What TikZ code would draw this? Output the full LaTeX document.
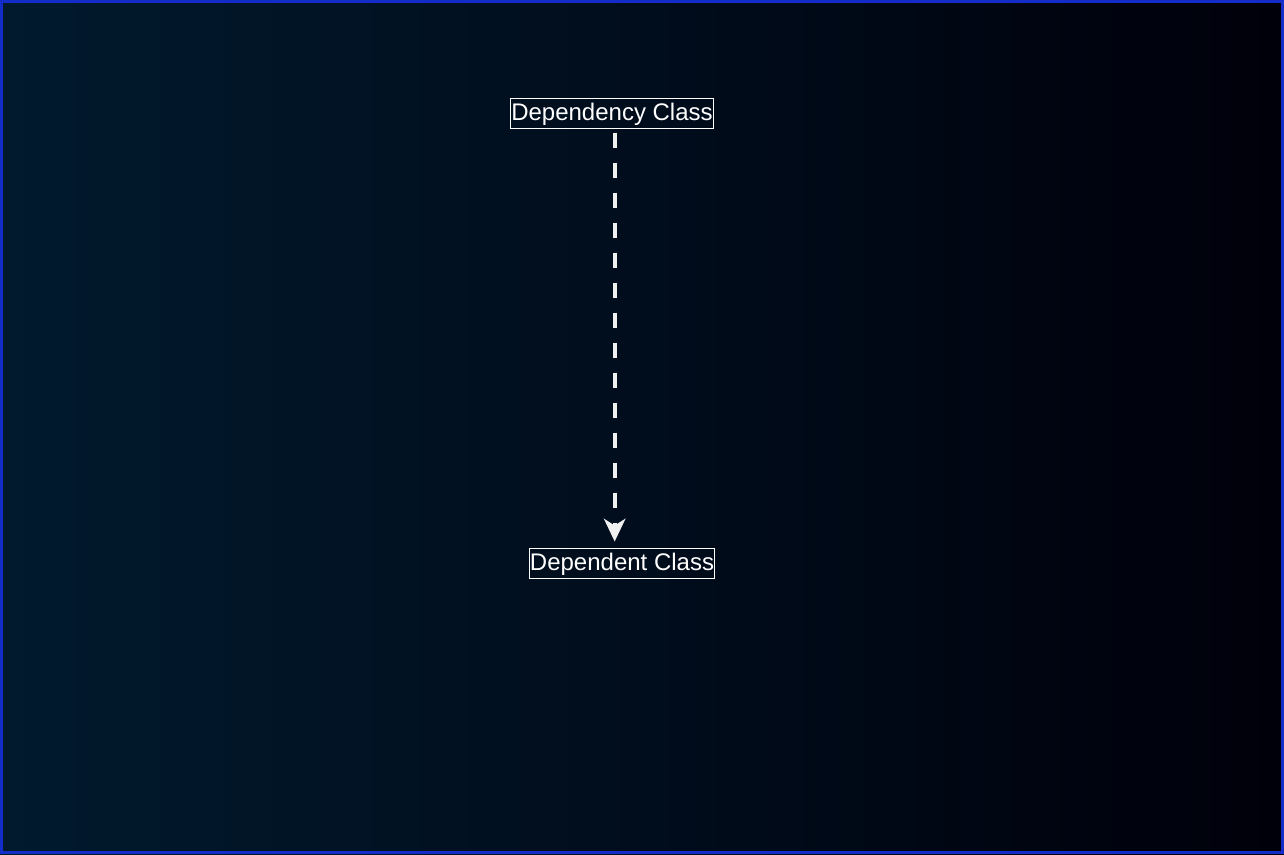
\documentclass[tikz,border=0pt]{standalone}
\usepackage{fontspec}
\setmainfont{Liberation Sans}
\usetikzlibrary{arrows.meta}
\definecolor{bgleft}{RGB}{1,26,46}
\definecolor{bgright}{RGB}{0,0,10}
\definecolor{frameblue}{RGB}{20,44,200}
\definecolor{arrowgray}{RGB}{240,240,240}
\begin{document}
\begin{tikzpicture}[x=0.75pt,y=0.75pt,yscale=-1,xscale=1,
        classbox/.style={draw=white,line width=0.75pt,text=white,font=\fontsize{18}{21.6}\selectfont,inner xsep=0.5pt,inner ysep=0pt,text height=13.25pt,text depth=2pt,minimum height=22.5pt},
        depline/.style={draw=arrowgray,line width=3pt,dash pattern=on 11.25pt off 11.25pt,-{Stealth[length=17pt,width=16pt,inset=5pt]}}]
        \useasboundingbox (0,0) rectangle (1284,854);

        %Background
        \shade[left color=bgleft,right color=bgright] (0,0) rectangle (1284,854);
        %Frame
        \draw[frameblue,line width=2.25pt] (1.5,1.5) rectangle (1282.5,852.5);

        % Text Node
        \node[classbox] (dependency) at (612,113) {Dependency Class};
        % Text Node
        \node[classbox] (dependent) at (622,563) {Dependent Class};

        % Dependency arrow
        \draw[depline] ([xshift=2pt,yshift=3pt]dependency.south) -- ([xshift=-5.5pt,yshift=-4.5pt]dependent.north);
    \end{tikzpicture}
\end{document}
